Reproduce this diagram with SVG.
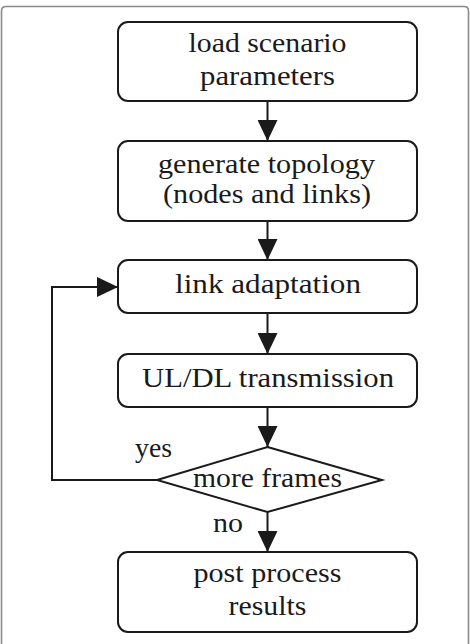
<svg xmlns="http://www.w3.org/2000/svg" width="470" height="644" viewBox="0 0 470 644">
<defs>
<style>
.frame{fill:none;stroke:#8a8a8a;stroke-width:1.6}
.box{fill:#fff;stroke:#1a1a1a;stroke-width:2}
.edge{fill:none;stroke:#1a1a1a;stroke-width:2}
text{font-size:27px;fill:#1a1a1a}
.t{text-anchor:middle}
</style>
<marker id="ah" viewBox="0 0 21 20" refX="21" refY="10" markerWidth="21" markerHeight="20" markerUnits="userSpaceOnUse" orient="auto">
<path d="M0,0 L21,10 L0,20 Z" fill="#1a1a1a"/>
</marker>
</defs>
<path class="frame" d="M1.5,650 L1.5,11 Q1.5,6.5 6,6.5 L464,6.5 Q468.5,6.5 468.5,11 L468.5,650"/>
<g font-family="Liberation Serif, DejaVu Serif, serif">
<g id="connectors">
<line class="edge" x1="267.5" y1="101" x2="267.5" y2="141" marker-end="url(#ah)"/>
<line class="edge" x1="267.5" y1="221" x2="267.5" y2="260" marker-end="url(#ah)"/>
<line class="edge" x1="267.5" y1="313" x2="267.5" y2="354" marker-end="url(#ah)"/>
<line class="edge" x1="267.5" y1="407" x2="267.5" y2="447" marker-end="url(#ah)"/>
<line class="edge" x1="267.5" y1="512" x2="267.5" y2="552" marker-end="url(#ah)"/>
<path class="edge" d="M157,480 L52,480 L52,287 L118,287" marker-end="url(#ah)"/>
<text x="135" y="457" textLength="37" lengthAdjust="spacingAndGlyphs">yes</text>
<text x="213" y="532" textLength="30" lengthAdjust="spacingAndGlyphs">no</text>
</g>
<g id="n1">
<rect class="box" x="118" y="22" width="299" height="79" rx="10"/>
<text class="t" x="267.5" y="52" textLength="158" lengthAdjust="spacingAndGlyphs">load scenario</text>
<text class="t" x="267.5" y="85" textLength="135" lengthAdjust="spacingAndGlyphs">parameters</text>
</g>
<g id="n2">
<rect class="box" x="118" y="141" width="299" height="80" rx="10"/>
<text class="t" x="266.5" y="173" textLength="217" lengthAdjust="spacingAndGlyphs">generate topology</text>
<text class="t" x="267" y="203" textLength="208" lengthAdjust="spacingAndGlyphs">(nodes and links)</text>
</g>
<g id="n3">
<rect class="box" x="118" y="260" width="299" height="53" rx="10"/>
<text class="t" x="268" y="293" textLength="186" lengthAdjust="spacingAndGlyphs">link adaptation</text>
</g>
<g id="n4">
<rect class="box" x="118" y="354" width="299" height="53" rx="10"/>
<text class="t" x="268" y="387" textLength="252" lengthAdjust="spacingAndGlyphs">UL/DL transmission</text>
</g>
<g id="n5">
<polygon class="box" points="267.5,447 382,480 267.5,512 157,480"/>
<text class="t" x="267.5" y="487" textLength="149" lengthAdjust="spacingAndGlyphs">more frames</text>
</g>
<g id="n6">
<rect class="box" x="118" y="552" width="299" height="80" rx="10"/>
<text class="t" x="267.5" y="582" textLength="148" lengthAdjust="spacingAndGlyphs">post process</text>
<text class="t" x="267.5" y="615" textLength="78" lengthAdjust="spacingAndGlyphs">results</text>
</g>
</g>
</svg>
